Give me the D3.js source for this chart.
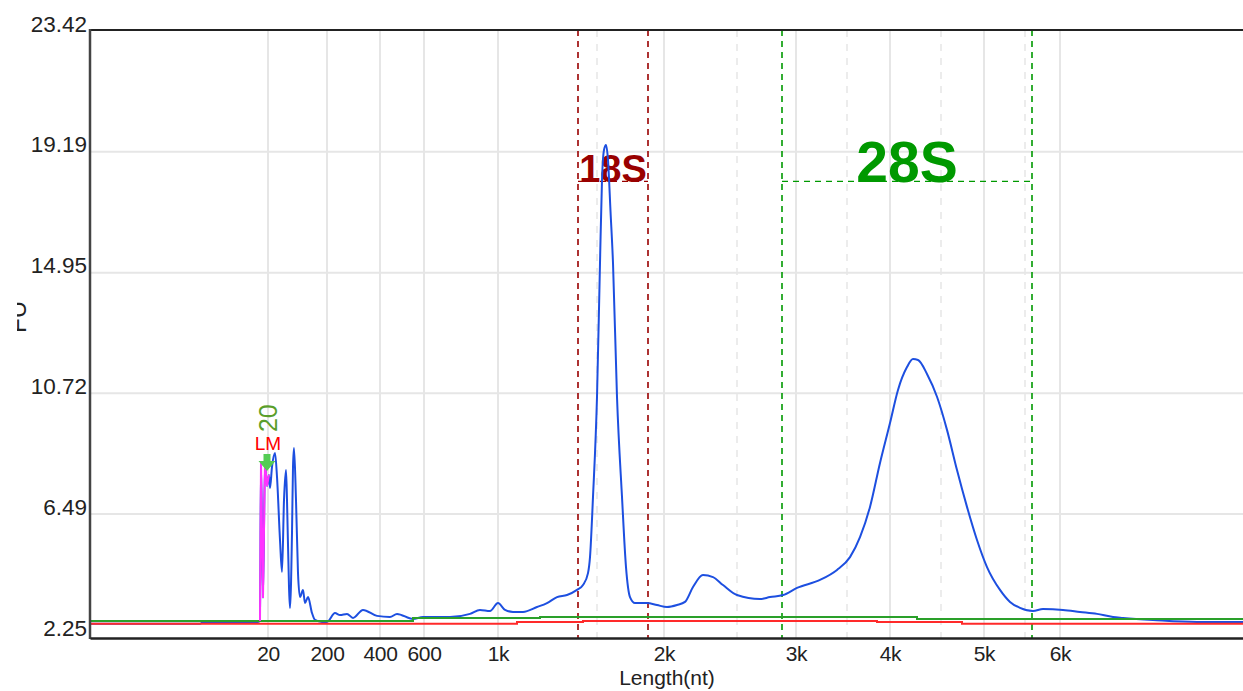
<!DOCTYPE html>
<html>
<head>
<meta charset="utf-8">
<script src="https://cdn.jsdelivr.net/npm/d3@7"></script>
<style>
  html, body { margin: 0; padding: 0; background: #fff; }
  svg { display: block; font-family: "Liberation Sans", Arial, sans-serif; }
</style>
</head>
<body>
<svg id="chart" width="1243" height="691"></svg>
<script>
// ---------- data (migration time in s, fluorescence) ----------
const yTickValues = [2.25, 6.49, 10.72, 14.95, 19.19, 23.42];
const yTickLabels = ["2.25", "6.49", "10.72", "14.95", "19.19", "23.42"];
const xTickTimes  = [22.12, 24.48, 26.6, 28.36, 31.32, 37.96, 43.24, 47.0, 50.76, 53.8];
const xTickLabels = ["20", "200", "400", "600", "1k", "2k", "3k", "4k", "5k", "6k"];
const xMinorTimes = [35.28, 40.88, 45.28, 49.04, 52.4];

const sampleTime = [15.0, 19.4, 19.52, 21.72, 21.8, 21.84, 21.92, 22.0, 22.08, 22.16,
  22.2, 22.28, 22.4, 22.48, 22.6, 22.68, 22.76, 22.84, 22.88, 22.96,
  23.0, 23.08, 23.12, 23.16, 23.24, 23.32, 23.4, 23.52, 23.6, 23.72,
  23.88, 24.0, 24.28, 24.48, 24.8, 25.0, 25.28, 25.52, 25.92, 26.48,
  27.0, 27.28, 27.92, 28.32, 29.4, 30.2, 30.6, 31.0, 31.32, 31.6,
  31.92, 32.32, 32.88, 33.28, 33.68, 34.08, 34.48, 34.72, 34.92, 35.0,
  35.12, 35.28, 35.4, 35.48, 35.56, 35.64, 35.72, 35.82, 35.92, 36.08,
  36.28, 36.44, 36.6, 36.8, 37.28, 37.68, 38.08, 38.48, 38.8, 39.12,
  39.52, 39.92, 40.32, 40.88, 41.8, 42.2, 42.72, 43.28, 44.2, 44.88,
  45.4, 45.8, 46.2, 46.6, 47.0, 47.32, 47.68, 47.92, 48.12, 48.48,
  48.88, 49.28, 49.68, 50.08, 50.48, 50.88, 51.4, 51.8, 52.2, 52.72,
  53.12, 53.92, 54.6, 55.28, 55.92, 56.32, 57.52, 59.28, 61.12];
const sampleSignal = [2.64, 2.64, 2.71, 2.71, 2.74, 8.31, 3.55, 8.31, 7.47, 7.86,
  7.40, 8.14, 8.63, 7.79, 5.58, 4.46, 6.98, 8.03, 6.98, 3.93,
  3.20, 5.83, 8.14, 8.80, 6.98, 4.42, 3.58, 3.83, 3.37, 3.58,
  3.02, 2.78, 2.71, 2.71, 3.02, 2.95, 2.99, 2.85, 3.13, 2.92,
  2.88, 2.99, 2.81, 2.88, 2.88, 2.99, 3.13, 3.09, 3.37, 3.13,
  3.06, 3.06, 3.23, 3.37, 3.58, 3.65, 3.83, 4.00, 4.42, 4.98,
  7.09, 10.59, 15.29, 18.20, 19.25, 19.42, 18.90, 17.11, 15.29, 10.59,
  7.09, 4.63, 3.58, 3.37, 3.37, 3.30, 3.23, 3.30, 3.41, 3.93,
  4.35, 4.28, 4.00, 3.65, 3.51, 3.58, 3.65, 3.90, 4.18, 4.53,
  4.98, 5.68, 6.74, 8.28, 9.68, 10.84, 11.64, 11.92, 11.89, 11.40,
  10.60, 9.44, 8.03, 6.74, 5.58, 4.63, 3.83, 3.41, 3.20, 3.09,
  3.16, 3.13, 3.06, 2.99, 2.88, 2.85, 2.78, 2.71, 2.71];

// lower marker (LM) segment of the trace, indices into the sample arrays
const markerStart = 3, markerEnd = 9;

// baselines (step functions)
const greenBaseTime = [15.0, 27.92, 33.0, 48.08, 61.12];
const greenBaseVal  = [2.74, 2.85, 2.88, 2.81, 2.81];
const redBaseTime   = [15.0, 32.08, 34.72, 46.48, 49.88, 61.12];
const redBaseVal    = [2.64, 2.71, 2.74, 2.71, 2.64, 2.64];

// regions
const region18S = { name: "18S", start: 34.52, end: 37.32, level: 18.15 };
const region28S = { name: "28S", start: 42.68, end: 52.68, level: 18.15 };
const lowerMarker = { time: 22.08, value: 8.31, label: "LM", size: "20" };

// ---------- drawing ----------
const svg = d3.select("#chart");
const x = d3.scaleLinear().domain([15, 61.12]).range([90, 1243]);
const y = d3.scaleLinear().domain([2.25, 23.42]).range([635, 31]);
const plotTop = 30, plotBottom = 638, plotLeft = 90, plotRight = 1243;
const FONT = "Liberation Sans, Arial, sans-serif";

const defs = svg.append("defs");
defs.append("clipPath").attr("id", "plotClip")
  .append("rect").attr("x", plotLeft + 1).attr("y", plotTop + 1)
  .attr("width", plotRight - plotLeft).attr("height", plotBottom - plotTop - 2);

// grid
const grid = svg.append("g");
grid.selectAll(".hg").data(yTickValues.slice(1, -1)).join("line")
  .attr("x1", plotLeft).attr("x2", plotRight)
  .attr("y1", d => y(d)).attr("y2", d => y(d))
  .attr("stroke", "#e6e6e6").attr("stroke-width", 2);
grid.selectAll(".vg").data(xTickTimes).join("line")
  .attr("x1", d => x(d)).attr("x2", d => x(d))
  .attr("y1", plotTop).attr("y2", plotBottom)
  .attr("stroke", "#e6e6e6").attr("stroke-width", 2);
grid.selectAll(".vm").data(xMinorTimes).join("line")
  .attr("x1", d => x(d)).attr("x2", d => x(d))
  .attr("y1", plotTop).attr("y2", plotBottom)
  .attr("stroke", "#e6e6e6").attr("stroke-width", 1.5)
  .attr("stroke-dasharray", "7,7");

// region markers
function drawRegion(r, color, fontSize) {
  const g = svg.append("g");
  [r.start, r.end].forEach(t => {
    g.append("line").attr("x1", x(t)).attr("x2", x(t))
      .attr("y1", plotTop).attr("y2", plotBottom)
      .attr("stroke", color).attr("stroke-width", 1.6)
      .attr("stroke-dasharray", "6,5");
  });
  g.append("line").attr("x1", x(r.start)).attr("x2", x(r.end))
    .attr("y1", y(r.level)).attr("y2", y(r.level))
    .attr("stroke", color).attr("stroke-width", 1.4)
    .attr("stroke-dasharray", "6,5");
  g.append("text").attr("x", (x(r.start) + x(r.end)) / 2).attr("y", y(r.level) + 1)
    .attr("text-anchor", "middle").attr("font-weight", "bold")
    .attr("font-size", fontSize).attr("fill", color)
    .attr("font-family", FONT)
    .text(r.name);
}
drawRegion(region18S, "#990000", 38);
drawRegion(region28S, "#009900", 57);

const plot = svg.append("g").attr("clip-path", "url(#plotClip)");

const trace = sampleTime.map((t, i) => [t, sampleSignal[i]]);
const line = d3.line().curve(d3.curveMonotoneX).x(d => x(d[0])).y(d => y(d[1]));
plot.append("path").attr("d", line(trace))
  .attr("fill", "none").attr("stroke", "#1d4fe0").attr("stroke-width", 2)
  .attr("stroke-linejoin", "round");

const stepLine = d3.line().curve(d3.curveStepAfter)
  .x(d => x(d[0])).y(d => y(d[1]));
plot.append("path")
  .attr("d", stepLine(greenBaseTime.map((t, i) => [t, greenBaseVal[i]])))
  .attr("fill", "none").attr("stroke", "#2aa02a").attr("stroke-width", 2);
plot.append("path")
  .attr("d", stepLine(redBaseTime.map((t, i) => [t, redBaseVal[i]])))
  .attr("fill", "none").attr("stroke", "#ff2a2a").attr("stroke-width", 2);

plot.append("path").attr("d", d3.line().x(d => x(d[0])).y(d => y(d[1]))(trace.slice(markerStart + 1, markerEnd + 1)))
  .attr("fill", "none").attr("stroke", "#ff33ff").attr("stroke-width", 2);

// lower marker arrow + labels
const mx = x(lowerMarker.time), my = y(lowerMarker.value);
svg.append("path")
  .attr("d", `M${mx - 3.5},${my - 8} L${mx + 3.5},${my - 8} L${mx + 3.5},${my - 1} L${mx + 8.5},${my - 1} L${mx},${my + 9} L${mx - 8.5},${my - 1} L${mx - 3.5},${my - 1} Z`)
  .attr("fill", "#55cc55");
svg.append("text").attr("x", mx + 1).attr("y", my - 12)
  .attr("text-anchor", "middle").attr("font-size", 19).attr("fill", "#ff0000")
  .attr("font-family", FONT)
  .text(lowerMarker.label);
svg.append("text")
  .attr("transform", `translate(${mx + 10},${my - 30}) rotate(-90)`)
  .attr("text-anchor", "start").attr("font-size", 25).attr("fill", "#5a9e2a")
  .attr("font-family", FONT)
  .text(lowerMarker.size);

// frame
svg.append("line").attr("x1", plotLeft).attr("x2", plotRight).attr("y1", plotTop).attr("y2", plotTop)
  .attr("stroke", "#222").attr("stroke-width", 2);
svg.append("line").attr("x1", plotLeft).attr("x2", plotLeft).attr("y1", plotTop - 1).attr("y2", plotBottom + 1)
  .attr("stroke", "#444").attr("stroke-width", 2.5);

// axes
const yAxis = d3.axisLeft(y).tickValues(yTickValues)
  .tickFormat((d, i) => yTickLabels[i]).tickSize(0).tickPadding(2);
const gy = svg.append("g").attr("transform", `translate(${plotLeft - 1},0)`).call(yAxis);
gy.select(".domain").remove();
gy.selectAll("text").attr("dy", "0").attr("font-size", 22.5).attr("fill", "#222")
  .attr("font-family", FONT);

const xAxis = d3.axisBottom(x).tickValues(xTickTimes)
  .tickFormat((d, i) => xTickLabels[i]).tickSize(0);
const gx = svg.append("g").attr("transform", `translate(0,${plotBottom})`).call(xAxis);
gx.select(".domain").attr("stroke", "#222").attr("stroke-width", 2.5);
gx.selectAll("text").attr("y", 23).attr("dy", "0").attr("font-size", 21).attr("fill", "#222")
  .attr("font-family", FONT).attr("letter-spacing", "-0.3");

svg.append("text").attr("x", 667).attr("y", 685).attr("text-anchor", "middle")
  .attr("font-size", 21).attr("fill", "#222").attr("font-family", FONT).text("Length(nt)");

// y-axis title (clipped in original)
defs.append("clipPath").attr("id", "ytClip")
  .append("rect").attr("x", 17).attr("y", 284).attr("width", 10).attr("height", 52);
svg.append("g").attr("clip-path", "url(#ytClip)")
  .append("text")
  .attr("transform", "translate(26,333) rotate(-90)")
  .attr("font-size", 24).attr("fill", "#222").attr("font-family", FONT).text("FU");
</script>
</body>
</html>
